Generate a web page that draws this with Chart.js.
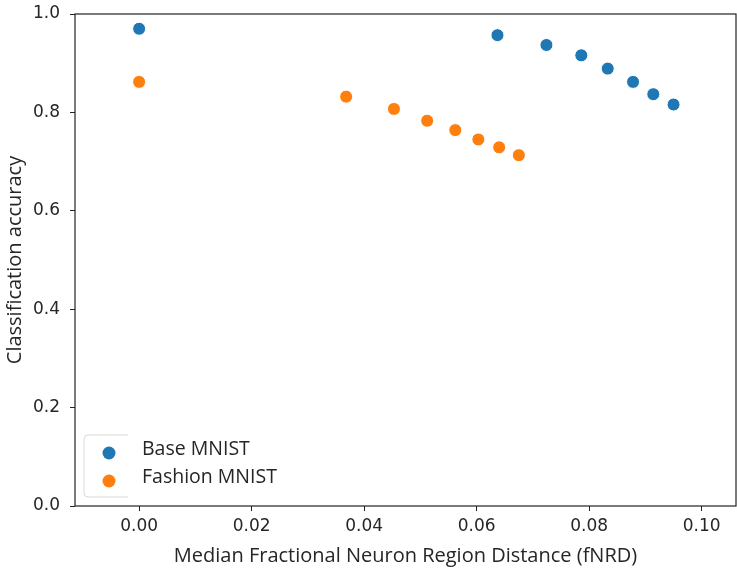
<!DOCTYPE html>
<html>
<head>
<meta charset="utf-8">
<script src="https://cdn.jsdelivr.net/npm/chart.js@4"></script>
<style>
  html, body { margin: 0; padding: 0; background: #fff; overflow: hidden; }
  #wrap { width: 737px; height: 572px; position: relative; }
  #scatter { display: block; }
</style>
</head>
<body>
<div id="wrap"><canvas id="scatter"></canvas></div>
<script>
/* ── data ── */
const seriesNames = ['Base MNIST', 'Fashion MNIST'];
const seriesColors = ['#1f77b4', '#ff7f0e'];

const baseX = [0.0, 0.0637, 0.0724, 0.0786, 0.0833, 0.0878, 0.0914, 0.0950];
const baseY = [0.970, 0.957, 0.937, 0.916, 0.889, 0.862, 0.837, 0.816];

const fashionX = [0.0, 0.0368, 0.0453, 0.0512, 0.0562, 0.0603, 0.0640, 0.0675];
const fashionY = [0.862, 0.832, 0.807, 0.783, 0.764, 0.745, 0.729, 0.713];

const xTicks = [0.00, 0.02, 0.04, 0.06, 0.08, 0.10];
const yTicks = [0.0, 0.2, 0.4, 0.6, 0.8, 1.0];

const xLabel = 'Median Fractional Neuron Region Distance (fNRD)';
const yLabel = 'Classification accuracy';

/* ── helpers ── */
const toPoints = (xs, ys) => xs.map((x, i) => ({ x, y: ys[i] }));

const TXT = '#262626';
const tickFont  = { family: 'DejaVu Sans', size: 17 };
const labelFont = { family: 'Open Sans', size: 20 };

/* frame round the plot area */
const framePlugin = {
  id: 'frame',
  afterDraw(chart) {
    const { ctx, chartArea: a } = chart;
    ctx.save();
    ctx.strokeStyle = '#222';
    ctx.lineWidth = 1.2;
    ctx.strokeRect(a.left, a.top, a.right - a.left, a.bottom - a.top);
    ctx.restore();
  },
};

/* legend in the lower-left corner, frame cut short on its right */
const legendPlugin = {
  id: 'cornerLegend',
  afterDraw(chart) {
    const { ctx, chartArea: a } = chart;
    const x0 = a.left + 9, y0 = a.bottom - 71;
    ctx.save();
    ctx.strokeStyle = '#d9d9d9';
    ctx.lineWidth = 1;
    ctx.beginPath();
    ctx.moveTo(x0 + 44, y0);
    ctx.lineTo(x0 + 4, y0);
    ctx.arcTo(x0, y0, x0, y0 + 4, 4);
    ctx.lineTo(x0, y0 + 58);
    ctx.arcTo(x0, y0 + 62, x0 + 4, y0 + 62, 4);
    ctx.lineTo(x0 + 44, y0 + 62);
    ctx.stroke();

    seriesNames.forEach((name, i) => {
      const cy = y0 + 18 + i * 28;
      ctx.beginPath();
      ctx.arc(x0 + 25, cy, 6.5, 0, Math.PI * 2);
      ctx.fillStyle = seriesColors[i];
      ctx.fill();
      ctx.fillStyle = TXT;
      ctx.font = '19.5px "Open Sans"';
      ctx.textBaseline = 'middle';
      ctx.fillText(name, x0 + 58, cy - 4);
    });
    ctx.restore();
  },
};

const makeSet = (i, xs, ys) => ({
  label: seriesNames[i],
  data: toPoints(xs, ys),
  backgroundColor: seriesColors[i],
  borderColor: '#ffffff',
  borderWidth: 1,
  pointRadius: 6.5,
  pointHoverRadius: 6.5,
});

new Chart(document.getElementById('scatter'), {
  type: 'scatter',
  data: {
    datasets: [
      makeSet(0, baseX, baseY),
      makeSet(1, fashionX, fashionY),
    ],
  },
  plugins: [framePlugin, legendPlugin],
  options: {
    responsive: true,
    maintainAspectRatio: false,
    animation: false,
    layout: { autoPadding: false, padding: { top: 14, right: 1, left: 0, bottom: 0 } },
    plugins: { legend: { display: false }, tooltip: { enabled: false } },
    scales: {
      x: {
        type: 'linear',
        min: -0.0114,
        max: 0.1061,
        afterBuildTicks: s => { s.ticks = xTicks.map(v => ({ value: v })); },
        afterFit: s => { s.height = 66; s.paddingLeft = 0; s.paddingRight = 0; },
        ticks: {
          color: TXT, font: tickFont, padding: 5,
          callback: v => v.toFixed(2),
        },
        grid: { drawOnChartArea: false, drawTicks: true, tickLength: 5, color: '#222' },
        border: { display: false },
        title: { display: true, text: xLabel, color: TXT, font: labelFont, padding: { top: 4, bottom: 4 } },
      },
      y: {
        type: 'linear',
        min: 0,
        max: 1,
        afterBuildTicks: s => { s.ticks = yTicks.map(v => ({ value: v })); },
        afterFit: s => { s.width = 75; s.paddingTop = 0; s.paddingBottom = 0; },
        ticks: {
          color: TXT, font: tickFont, padding: 10,
          callback: v => v.toFixed(1),
        },
        grid: { drawOnChartArea: false, drawTicks: true, tickLength: 5, color: '#222' },
        border: { display: false },
        title: { display: true, text: yLabel, color: TXT, font: labelFont, padding: { top: 3, bottom: 4 } },
      },
    },
  },
});
</script>
</body>
</html>
